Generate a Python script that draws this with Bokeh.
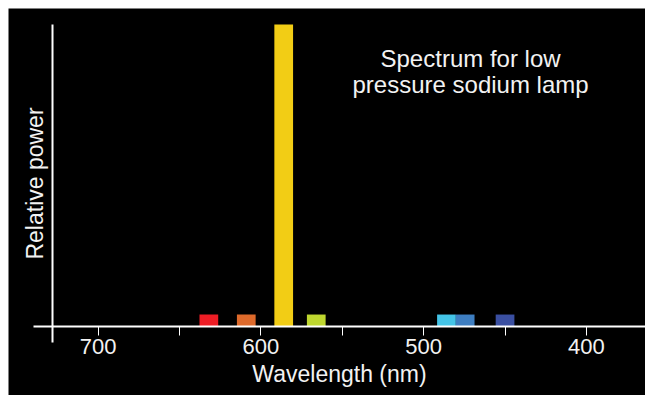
from bokeh.plotting import figure
from bokeh.models import Range1d, FixedTicker, Label, LinearAxis
from bokeh.embed import file_html
from bokeh.resources import INLINE

# ---- data ----
wavelengths = [632, 609, 586, 566, 486, 474.5, 450]
power = [4, 4, 100, 4, 4, 4, 4]
colors = ["#ee1d25", "#de6a2b", "#f2cd15", "#bfd72f", "#44c4e7", "#3e7ec1", "#3a4fa1"]
major_ticks = [700, 600, 500, 400]
minor_ticks = [650, 550, 450]
x_label = "Wavelength (nm)"
y_label = "Relative power"
title_lines = ["Spectrum for low", "pressure sodium lamp"]

FONT = "Liberation Sans"
TXT = "#f2f2f2"

p = figure(width=637, height=387, output_backend="svg", toolbar_location=None,
           x_range=Range1d(755.1, 363.7), y_range=Range1d(-22.8, 105.3),
           x_axis_location=None, y_axis_location=None,
           min_border_left=0, min_border_right=0, min_border_top=0, min_border_bottom=0,
           background_fill_color="black", border_fill_color="black",
           outline_line_color=None)
p.margin = (8, 0, 0, 8)
p.grid.visible = False

p.vbar(x=wavelengths, top=power, bottom=0, width=11.5, color=colors, line_color=None)

xaxis = LinearAxis(fixed_location=0, bounds=(356.4, 739.8),
                   ticker=FixedTicker(ticks=major_ticks, minor_ticks=minor_ticks),
                   axis_label=x_label)
xaxis.axis_line_color = "white"
xaxis.axis_line_width = 2
xaxis.major_tick_in = 0
xaxis.major_tick_out = 9
xaxis.minor_tick_in = 0
xaxis.minor_tick_out = 9
xaxis.major_tick_line_color = "white"
xaxis.minor_tick_line_color = "white"
xaxis.major_tick_line_width = 1
xaxis.minor_tick_line_width = 1
xaxis.major_label_text_color = TXT
xaxis.major_label_text_font = FONT
xaxis.major_label_text_font_size = "22px"
xaxis.major_label_standoff = 3
xaxis.axis_label_text_color = TXT
xaxis.axis_label_text_font = FONT
xaxis.axis_label_text_font_size = "23px"
xaxis.axis_label_text_font_style = "normal"
xaxis.axis_label_standoff = 4
p.add_layout(xaxis, "below")

yaxis = LinearAxis(fixed_location=728.3, bounds=(-5.3, 100),
                   ticker=FixedTicker(ticks=[]), axis_label=y_label)
yaxis.axis_line_color = "white"
yaxis.axis_line_width = 2
yaxis.major_tick_out = 0
yaxis.major_tick_in = 0
yaxis.minor_tick_out = 0
yaxis.minor_tick_in = 0
yaxis.axis_label_text_color = TXT
yaxis.axis_label_text_font = FONT
yaxis.axis_label_text_font_size = "23px"
yaxis.axis_label_text_font_style = "normal"
yaxis.axis_label_standoff = 5
p.add_layout(yaxis, "left")

title_y = [88.9, 80.3]
for line, ty in zip(title_lines, title_y):
    p.add_layout(Label(x=471.2, y=ty, text=line, text_align="center",
                       text_baseline="middle", text_color=TXT,
                       text_font=FONT, text_font_size="24px"))

open("out.html", "w").write(file_html(p, INLINE))
